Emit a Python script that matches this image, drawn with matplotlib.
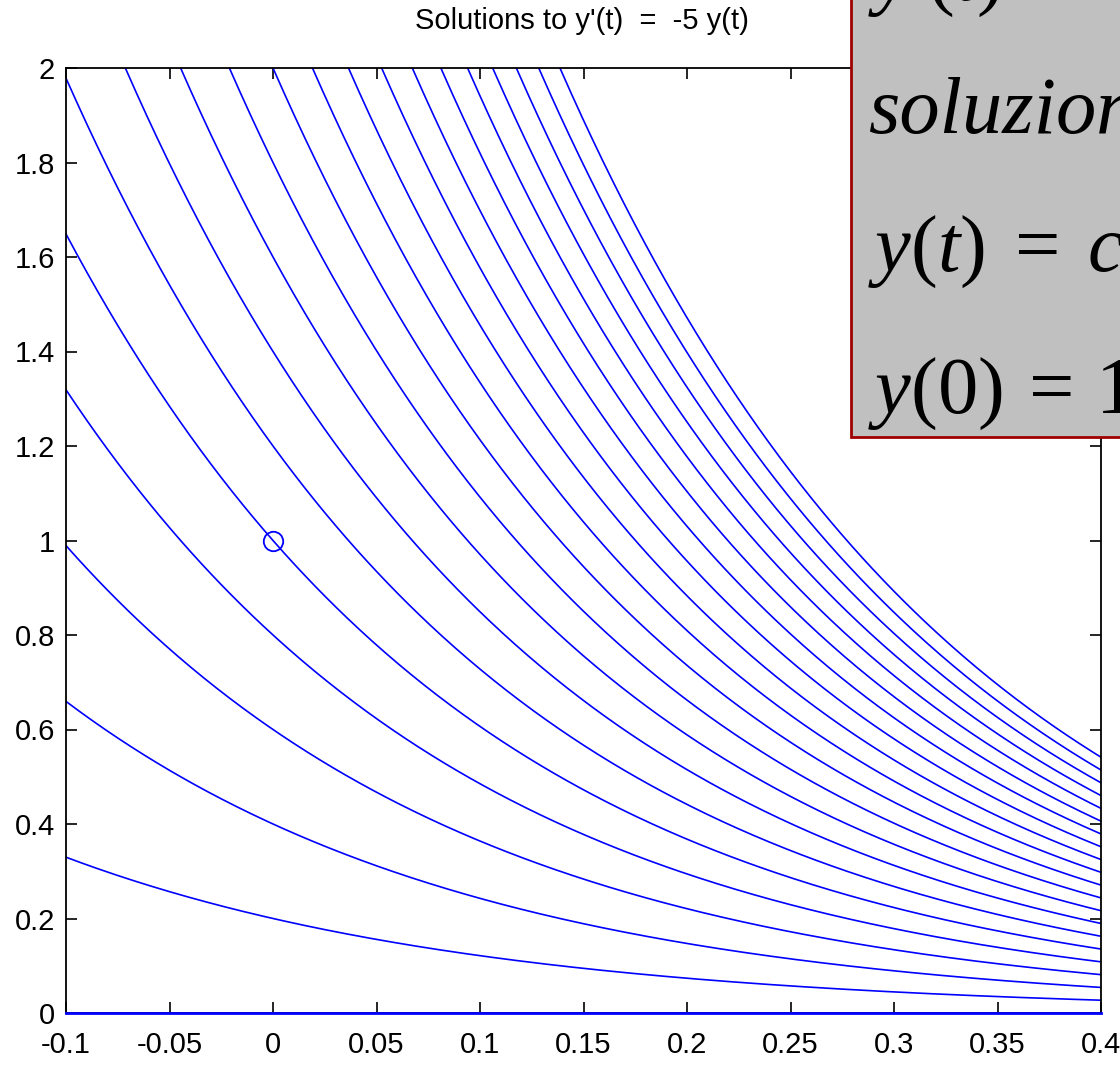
import numpy as np
import matplotlib
matplotlib.use("Agg")
import matplotlib.pyplot as plt
from matplotlib.patches import Rectangle

# integration constants c of y(t) = c*exp(-5t) at t = 0
c_values = [0.0, 0.2, 0.4, 0.6, 0.8, 1.0, 1.2, 1.4, 1.6, 1.8, 2.0,
            2.2, 2.4, 2.6, 2.8, 3.0, 3.2, 3.4, 3.6, 3.8, 4.0]
decay_rate = -5.0
t_start, t_end = -0.1, 0.4
initial_point = (0.0, 1.0)

x_ticks = [-0.1, -0.05, 0, 0.05, 0.1, 0.15, 0.2, 0.25, 0.3, 0.35, 0.4]
x_labels = ["-0.1", "-0.05", "0", "0.05", "0.1", "0.15", "0.2", "0.25", "0.3", "0.35", "0.4"]
y_ticks = [0, 0.2, 0.4, 0.6, 0.8, 1.0, 1.2, 1.4, 1.6, 1.8, 2.0]
y_labels = ["0", "0.2", "0.4", "0.6", "0.8", "1", "1.2", "1.4", "1.6", "1.8", "2"]

box_lines = [r"$y'(t)\;=\;-5\,y(t)$", "soluzioni", r"$y(t)\;=\;c\,e^{-5t}$", r"$y(0)\:=\,1$"]

plt.rcParams['mathtext.fontset'] = 'custom'
plt.rcParams['mathtext.rm'] = 'Liberation Serif'
plt.rcParams['mathtext.it'] = 'Liberation Serif:italic'

W, H = 1120, 1065
fig = plt.figure(figsize=(W / 100, H / 100), dpi=100)
ax = fig.add_axes([66 / W, 1 - 1013 / H, (1101 - 66) / W, (1013 - 68) / H])

tick_font = 'Liberation Sans'

t = np.linspace(t_start, t_end, 400)
for c in c_values:
    y = c * np.exp(decay_rate * t)
    if c == 0:
        ax.plot(t, y, color='#0000ff', lw=2.0, clip_on=False, zorder=3)
    else:
        ax.plot(t, y, color='#0000ff', lw=1.2)

ax.plot([initial_point[0]], [initial_point[1]], 'o', mfc='none', mec='#0000ff',
        ms=14, mew=1.3)

ax.set_xlim(t_start, t_end)
ax.set_ylim(0, 2)
ax.set_xticks(x_ticks)
ax.set_xticklabels(x_labels, family=tick_font, fontsize=21)
ax.set_yticks(y_ticks)
ax.set_yticklabels(y_labels, family=tick_font, fontsize=21)
ax.tick_params(direction='in', length=8, width=1.2, top=True, right=True,
               colors='black')
ax.tick_params(axis='x', pad=13)
ax.tick_params(axis='y', pad=8)
for s in ax.spines.values():
    s.set_linewidth(1.3)

fig.text(582 / W, 1 - 21 / H, "Solutions to y'(t)  =  -5 y(t)", ha='center',
         va='center', family=tick_font, fontsize=21)

# gray note box in the top right corner, partly outside the picture
box = Rectangle((851 / W, 1 - 437 / H), 400 / W, 500 / H, transform=fig.transFigure,
                facecolor='#c0c0c0', edgecolor='#a00000', lw=2, zorder=10,
                clip_on=False)
fig.add_artist(box)

baselines = [1, 133, 272, 413]
for txt, yb in zip(box_lines, baselines):
    fig.text(868 / W, 1 - yb / H, txt, ha='left', va='baseline', fontsize=58,
             family='Liberation Serif', style='italic', zorder=11)

fig.savefig("out.png", dpi=100)
